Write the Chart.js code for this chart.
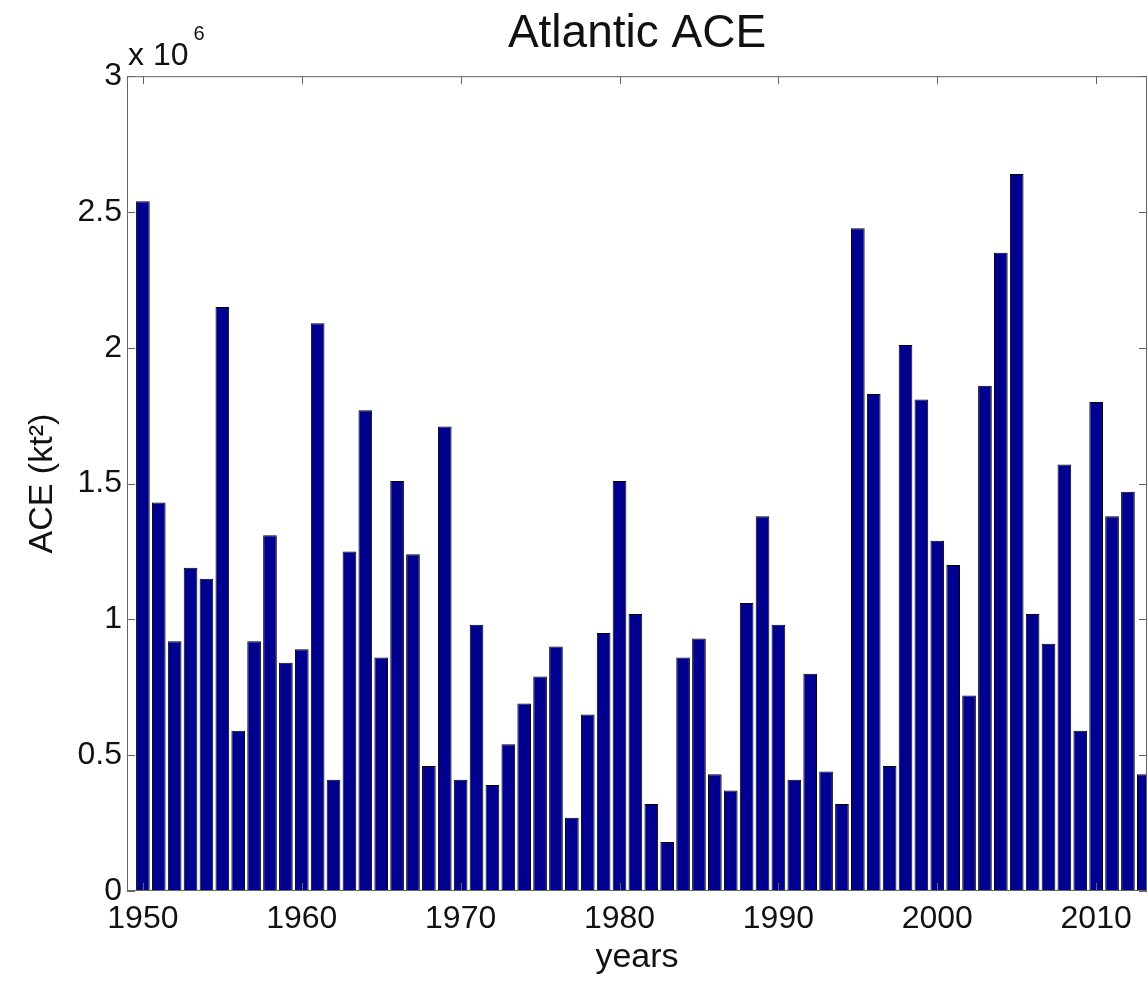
<!DOCTYPE html>
<html lang="en">

<head>
  <meta charset="UTF-8" />
  <script src="https://cdn.jsdelivr.net/npm/chart.js"></script>
  <title>Atlantic ACE</title>
  <style>
    html,
    body {
      margin: 0;
      padding: 0;
      background: #fff;
      overflow: hidden;
    }

    .caixa {
      width: 1148px;
      height: 984px;
      position: relative;
    }
  </style>
</head>

<body>
  <div class="caixa">
    <canvas id="aceChart"></canvas>
  </div>

  <script>
    // anos e ACE (em unidades de 10^6 kt^2)
    const anos = [
      1950, 1951, 1952, 1953, 1954, 1955, 1956, 1957, 1958, 1959,
      1960, 1961, 1962, 1963, 1964, 1965, 1966, 1967, 1968, 1969,
      1970, 1971, 1972, 1973, 1974, 1975, 1976, 1977, 1978, 1979,
      1980, 1981, 1982, 1983, 1984, 1985, 1986, 1987, 1988, 1989,
      1990, 1991, 1992, 1993, 1994, 1995, 1996, 1997, 1998, 1999,
      2000, 2001, 2002, 2003, 2004, 2005, 2006, 2007, 2008, 2009,
      2010, 2011, 2012, 2013
    ];
    const ace = [
      2.54, 1.43, 0.92, 1.19, 1.15, 2.15, 0.59, 0.92, 1.31, 0.84,
      0.89, 2.09, 0.41, 1.25, 1.77, 0.86, 1.51, 1.24, 0.46, 1.71,
      0.41, 0.98, 0.39, 0.54, 0.69, 0.79, 0.90, 0.27, 0.65, 0.95,
      1.51, 1.02, 0.32, 0.18, 0.86, 0.93, 0.43, 0.37, 1.06, 1.38,
      0.98, 0.41, 0.80, 0.44, 0.32, 2.44, 1.83, 0.46, 2.01, 1.81,
      1.29, 1.20, 0.72, 1.86, 2.35, 2.64, 1.02, 0.91, 1.57, 0.59,
      1.80, 1.38, 1.47, 0.43
    ];
    const ticksX = [1950, 1960, 1970, 1980, 1990, 2000, 2010];
    const ticksY = [0, 0.5, 1, 1.5, 2, 2.5, 3];

    const fonte = "'Liberation Sans', Arial, Helvetica, sans-serif";
    const corTexto = "#111";

    // caixa dos eixos, ticks para dentro (estilo matlab) e o "x 10^6"
    const moldura = {
      id: "moldura",
      afterDatasetsDraw(chart) {
        const { ctx, chartArea: a, scales } = chart;
        ctx.save();
        ctx.strokeStyle = "#666";
        ctx.lineWidth = 1;
        ctx.strokeRect(a.left + 0.5, a.top + 0.5, a.right - a.left - 1, a.bottom - a.top - 1);

        ctx.beginPath();
        ticksY.forEach(v => {
          const y = Math.round(scales.y.getPixelForValue(v)) + 0.5;
          ctx.moveTo(a.left, y);
          ctx.lineTo(a.left + 8, y);
          ctx.moveTo(a.right, y);
          ctx.lineTo(a.right - 8, y);
        });
        ticksX.forEach(v => {
          const x = Math.round(scales.x.getPixelForValue(v)) + 0.5;
          ctx.moveTo(x, a.bottom);
          ctx.lineTo(x, a.bottom - 8);
          ctx.moveTo(x, a.top);
          ctx.lineTo(x, a.top + 8);
        });
        ctx.stroke();

        ctx.fillStyle = corTexto;
        ctx.textBaseline = "alphabetic";
        ctx.textAlign = "left";
        ctx.font = `32px ${fonte}`;
        ctx.fillText("x 10", a.left + 1, a.top - 11);
        const w = ctx.measureText("x 10").width;
        ctx.font = `20px ${fonte}`;
        ctx.fillText("6", a.left + w + 6, a.top - 36);
        ctx.restore();
      },
    };

    const dados = {
      datasets: [
        {
          label: "ACE",
          data: anos.map((ano, i) => ({ x: ano, y: ace[i] })),
          backgroundColor: "#00008F",
          borderColor: "#000000",
          borderWidth: 1,
          categoryPercentage: 1,
          barPercentage: 0.86,
        },
      ],
    };

    const config = {
      type: "bar",
      data: dados,
      options: {
        responsive: true,
        maintainAspectRatio: false,
        animation: false,
        layout: {
          padding: { left: 0, right: 1, top: 0, bottom: 0 },
        },
        scales: {
          x: {
            type: "linear",
            min: 1949,
            max: 2013.2,
            offset: false,
            grid: { display: false, drawTicks: false },
            border: { display: false },
            afterBuildTicks: (scale) => {
              scale.ticks = ticksX.map(v => ({ value: v }));
            },
            afterFit: (scale) => {
              scale.height = 93;
            },
            ticks: {
              color: corTexto,
              font: { family: fonte, size: 32 },
              padding: 9,
              maxRotation: 0,
              autoSkip: false,
              callback: (v) => String(v),
            },
            title: {
              display: true,
              text: "years",
              color: corTexto,
              font: { family: fonte, size: 34 },
              padding: { top: 0, bottom: 6 },
            },
          },
          y: {
            min: 0,
            max: 3,
            grid: { display: false, drawTicks: false },
            border: { display: false },
            afterBuildTicks: (scale) => {
              scale.ticks = ticksY.map(v => ({ value: v }));
            },
            afterFit: (scale) => {
              scale.width = 127;
            },
            ticks: {
              color: corTexto,
              font: { family: fonte, size: 32 },
              padding: 5,
              callback: (v) => String(v),
            },
            title: {
              display: true,
              text: "ACE (kt²)",
              color: corTexto,
              font: { family: fonte, size: 34 },
              padding: { top: 22, bottom: 0 },
            },
          },
        },
        plugins: {
          legend: { display: false },
          tooltip: { enabled: false },
          title: {
            display: true,
            text: "Atlantic ACE",
            fullSize: false,
            color: corTexto,
            font: { family: fonte, size: 46, weight: "normal" },
            padding: { top: 7, bottom: 14 },
          },
        },
      },
      plugins: [moldura],
    };

    let myChart = new Chart(
      document.getElementById("aceChart").getContext("2d"),
      config
    );
  </script>
</body>

</html>
